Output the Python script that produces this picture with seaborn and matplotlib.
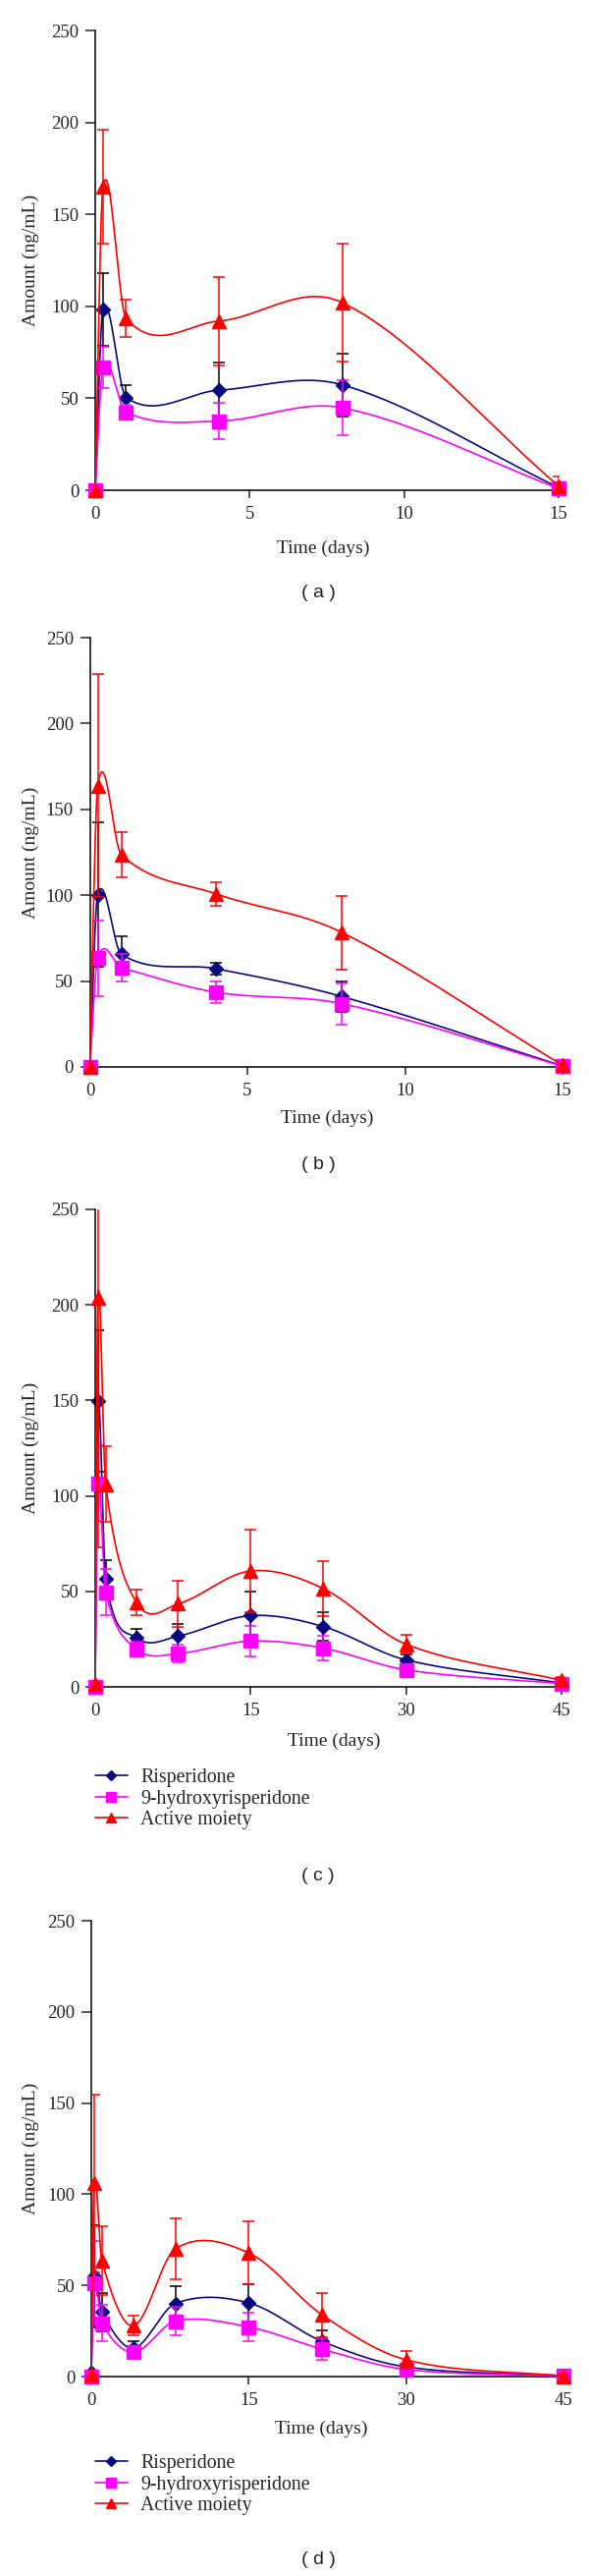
import numpy as np
import matplotlib
matplotlib.use("Agg")
import matplotlib.pyplot as plt
from matplotlib.lines import Line2D
import seaborn as sns

# sampling times (days)
T_SHORT = [0, 0.25, 1, 4, 8, 15]
T_LONG = [0, 0.25, 1, 4, 8, 15, 22, 30, 45]

# panel (a)
RIS_A = [0, 98.3, 50.4, 54.4, 57.3, 1.5]
RIS_A_ERR = [0, 20, 6.6, 15, 17, 1]
OH_A = [0, 66.8, 42.4, 37.6, 44.8, 1.0]
OH_A_ERR = [0, 11, 4, 10, 15, 1]
ACT_A = [0, 165, 93.5, 92, 102, 2.3]
ACT_A_ERR = [0, 31, 10, 24, 32, 5]

# panel (b)
RIS_B = [0, 100.4, 65.6, 57.2, 41, 0.6]
RIS_B_ERR = [0, 42, 10.6, 3.7, 9, 0.5]
OH_B = [0, 63.4, 57.8, 43.5, 36.8, 0.5]
OH_B_ERR = [0, 22, 8, 6.5, 12, 0.5]
ACT_B = [0, 163.7, 123.5, 100.8, 78.3, 1]
ACT_B_ERR = [0, 65, 13, 7, 21.5, 1]

# panel (c)
RIS_C = [0, 149.6, 56.4, 25.7, 26.6, 37.3, 31.6, 14.1, 2]
RIS_C_ERR = [0, 37, 10, 4.5, 6.5, 12.7, 7.5, 3, 1]
OH_C = [0, 106.7, 49.6, 19.8, 17.5, 24, 20.3, 8.9, 1.7]
OH_C_ERR = [0, 20, 12, 4, 4.7, 8, 6.3, 2, 1]
ACT_C = [1.5, 203.8, 106.2, 44.1, 43.5, 60.7, 51.5, 22.3, 3.4]
ACT_C_ERR = [0, 131, 20, 6.8, 12, 21.7, 14.4, 4.8, 2]

# panel (d)
RIS_D = [2, 55, 35.3, 15.6, 40, 40.4, 19.3, 5.3, 0.5]
RIS_D_ERR = [1, 28, 10.7, 3.6, 9.8, 10.3, 6, 1, 0.5]
OH_D = [0, 51.3, 29.3, 13.3, 30.4, 27.2, 15, 3.9, 0.3]
OH_D_ERR = [0, 23, 10, 3, 7.6, 7.7, 6, 1, 0.3]
ACT_D = [1, 105.9, 63.7, 27.8, 70, 67.8, 33.8, 9.2, 0.2]
ACT_D_ERR = [0, 49, 19, 5.4, 16.6, 17.3, 12, 4.7, 1]

SERIES_NAMES = ["Risperidone", "9-hydroxyrisperidone", "Active moiety"]
Y_TICKS = [0, 50, 100, 150, 200, 250]

W, H = 600, 2622
NAVY, MAGENTA, RED = "#0a0a80", "#ff00ff", "#ff0000"
STYLES = [
    dict(color=NAVY, ecolor="black", marker="D", ms=7),
    dict(color=MAGENTA, ecolor=MAGENTA, marker="s", ms=10),
    dict(color=RED, ecolor=RED, marker="^", ms=10),
]


def fx(x):
    return x / W


def fy(y):
    return 1 - y / H


def smooth_curve(t, v, n=60):
    """Cubic Hermite path through the points (finite-difference slopes),
    only used to draw the connecting line like the original software."""
    t = np.asarray(t, float)
    v = np.asarray(v, float)
    m = np.empty_like(v)
    m[1:-1] = (v[2:] - v[:-2]) / (t[2:] - t[:-2])
    m[0] = (v[1] - v[0]) / (t[1] - t[0])
    m[-1] = (v[-1] - v[-2]) / (t[-1] - t[-2])
    xs, ys = [], []
    for i in range(len(t) - 1):
        h = t[i + 1] - t[i]
        s = np.linspace(0, 1, n, endpoint=False)
        h00 = 2 * s**3 - 3 * s**2 + 1
        h10 = s**3 - 2 * s**2 + s
        h01 = -2 * s**3 + 3 * s**2
        h11 = s**3 - s**2
        xs.append(t[i] + s * h)
        ys.append(h00 * v[i] + h10 * h * m[i] + h01 * v[i + 1] + h11 * h * m[i + 1])
    xs.append([t[-1]])
    ys.append([v[-1]])
    return np.concatenate(xs), np.concatenate(ys)


def draw_panel(ax, t, series, xmax, xticks):
    for z, ((vals, errs), st) in enumerate(zip(series, STYLES)):
        xs, ys = smooth_curve(t, vals)
        sns.lineplot(x=xs, y=ys, ax=ax, color=st["color"], lw=1.2, sort=False,
                     estimator=None, legend=False, zorder=2 + z)
        ax.errorbar(t, vals, yerr=errs, fmt="none", ecolor=st["ecolor"],
                    elinewidth=1.1, capsize=4.3, capthick=1.1, zorder=2 + z)
        ax.plot(t, vals, ls="none", marker=st["marker"], ms=st["ms"],
                color=st["color"], mec=st["color"], clip_on=False, zorder=2.5 + z)
    ax.set_xlim(0, xmax)
    ax.set_ylim(0, 250)
    ax.set_xticks(xticks)
    ax.set_yticks(Y_TICKS)
    ax.set_xlabel("")
    ax.set_ylabel("")
    sns.despine(ax=ax)
    for sp in ("left", "bottom"):
        ax.spines[sp].set_linewidth(1.1)
        ax.spines[sp].set_color("black")
    ax.tick_params(axis="y", length=7, width=1.1, pad=5, labelsize=13.5)
    ax.tick_params(axis="x", length=5.5, width=1.1, pad=6, labelsize=13.5)


sns.set_style("ticks")
plt.rcParams["font.family"] = ["Liberation Serif", "DejaVu Serif"]

fig = plt.figure(figsize=(W / 100, H / 100), dpi=100)

panels = [
    dict(tag="( a )", t=T_SHORT, data=[(RIS_A, RIS_A_ERR), (OH_A, OH_A_ERR), (ACT_A, ACT_A_ERR)],
         xmax=15, xticks=[0, 5, 10, 15], box=(97, 569, 31, 499),
         xlab=(329, 558), tag_y=603, legend_y=None),
    dict(tag="( b )", t=T_SHORT, data=[(RIS_B, RIS_B_ERR), (OH_B, OH_B_ERR), (ACT_B, ACT_B_ERR)],
         xmax=15, xticks=[0, 5, 10, 15], box=(91.5, 573, 649, 1086),
         xlab=(333, 1138), tag_y=1186, legend_y=None),
    dict(tag="( c )", t=T_LONG, data=[(RIS_C, RIS_C_ERR), (OH_C, OH_C_ERR), (ACT_C, ACT_C_ERR)],
         xmax=45, xticks=[0, 15, 30, 45], box=(97, 572, 1231, 1717),
         xlab=(340, 1772), tag_y=1910, legend_y=1800),
    dict(tag="( d )", t=T_LONG, data=[(RIS_D, RIS_D_ERR), (OH_D, OH_D_ERR), (ACT_D, ACT_D_ERR)],
         xmax=45, xticks=[0, 15, 30, 45], box=(93, 574, 1955, 2419),
         xlab=(327, 2472), tag_y=2605, legend_y=2498),
]

for p in panels:
    left, right, top, bottom = p["box"]
    ax = fig.add_axes([fx(left), fy(bottom), fx(right - left), (bottom - top) / H])
    draw_panel(ax, p["t"], p["data"], p["xmax"], p["xticks"])
    fig.text(fx(31), fy((top + bottom) / 2), "Amount (ng/mL)", rotation=90,
             ha="center", va="center", fontsize=14)
    fig.text(fx(p["xlab"][0]), fy(p["xlab"][1]), "Time (days)",
             ha="center", va="center", fontsize=14)
    fig.text(fx(324), fy(p["tag_y"]), p["tag"], ha="center", va="center",
             fontsize=14, family=["Liberation Sans", "DejaVu Sans"])
    if p["legend_y"] is not None:
        handles = [Line2D([], [], color=st["color"], marker=st["marker"],
                          ms=st["ms"] * 0.75, lw=1.2) for st in STYLES]
        fig.legend(handles, SERIES_NAMES, loc="upper left",
                   bbox_to_anchor=(fx(97), fy(p["legend_y"])),
                   bbox_transform=fig.transFigure, frameon=False, borderpad=0,
                   borderaxespad=0, handlelength=1.65, handletextpad=0.67,
                   labelspacing=0.13, fontsize=14.3)

fig.savefig("out.png", dpi=100)
